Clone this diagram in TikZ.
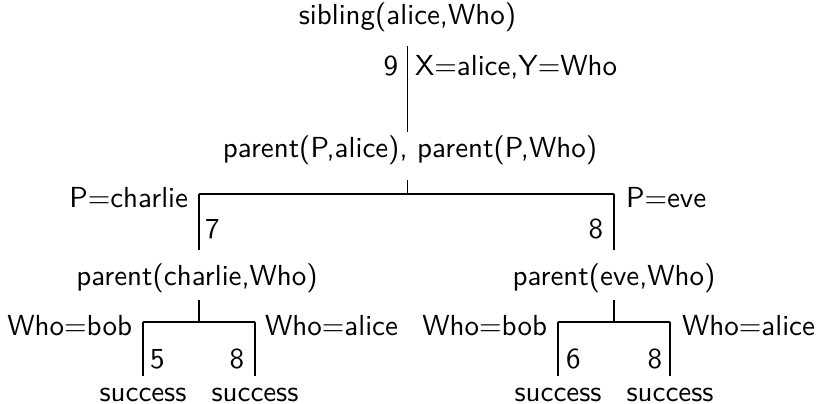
\documentclass[tikz,border=0pt]{standalone}
\begin{document}
\begin{tikzpicture}[x=0.345pt,y=-0.345pt,
  t/.style={inner sep=0pt, outer sep=0pt, font=\sffamily, anchor=base},
  tr/.style={t, anchor=base east},
  tl/.style={t, anchor=base west},
  ln/.style={line width=0.38pt}]
\useasboundingbox (0,0) rectangle (816,403);
% goals
\node[t] (root) at (407.5,24) {sibling(alice,Who)};
\node[t] (conj) at (410,157) {parent(P,alice), parent(P,Who)};
\node[t] (lc) at (197,285) {parent(charlie,Who)};
\node[t] (rc) at (614,285) {parent(eve,Who)};
\node[t] (s1) at (143,401) {success};
\node[t] (s2) at (255,401) {success};
\node[t] (s3) at (558,401) {success};
\node[t] (s4) at (670,401) {success};
% fork coordinates
\coordinate (top) at (407.5,46);
\coordinate (f) at (407.5,194);
\coordinate (fL) at (199,194);
\coordinate (fR) at (614,194);
\coordinate (gL) at (199,322);
\coordinate (gLa) at (143,322);
\coordinate (gLb) at (255,322);
\coordinate (gR) at (614,322);
\coordinate (gRa) at (558,322);
\coordinate (gRb) at (670,322);
% labels
\node[tr] (n9) at (398,75) {9};
\node[tl] (b9) at (415,75) {X=alice,Y=Who};
\node[tr] (bch) at (188,207) {P=charlie};
\node[tl] (bev) at (626,207) {P=eve};
\node[tl] (n7) at (205,238) {7};
\node[tr] (n8a) at (603,238) {8};
\node[tr] (bl1) at (132,335) {Who=bob};
\node[tl] (bl2) at (265,335) {Who=alice};
\node[tl] (n5) at (150,368) {5};
\node[tr] (n8b) at (244,368) {8};
\node[tr] (br1) at (547,335) {Who=bob};
\node[tl] (br2) at (682,335) {Who=alice};
\node[tl] (n6) at (566,368) {6};
\node[tr] (n8c) at (662,368) {8};
% connectors
\draw[ln, shorten >=1.2pt] (top) -- (conj.north -| top);
\draw[ln, shorten <=5.4pt] (conj.south -| f) -- (f);
\draw[ln] (fL) -- (fR);
\draw[ln, shorten >=4.6pt] (fL) -- (lc.north -| fL);
\draw[ln, shorten >=4.6pt] (fR) -- (rc.north -| fR);
\draw[ln, shorten <=2.7pt] (lc.south -| gL) -- (gL);
\draw[ln] (gLa) -- (gLb);
\draw[ln, shorten >=3.9pt] (gLa) -- (s1.north -| gLa);
\draw[ln, shorten >=3.9pt] (gLb) -- (s2.north -| gLb);
\draw[ln, shorten <=2.7pt] (rc.south -| gR) -- (gR);
\draw[ln] (gRa) -- (gRb);
\draw[ln, shorten >=3.9pt] (gRa) -- (s3.north -| gRa);
\draw[ln, shorten >=3.9pt] (gRb) -- (s4.north -| gRb);
\end{tikzpicture}
\end{document}
